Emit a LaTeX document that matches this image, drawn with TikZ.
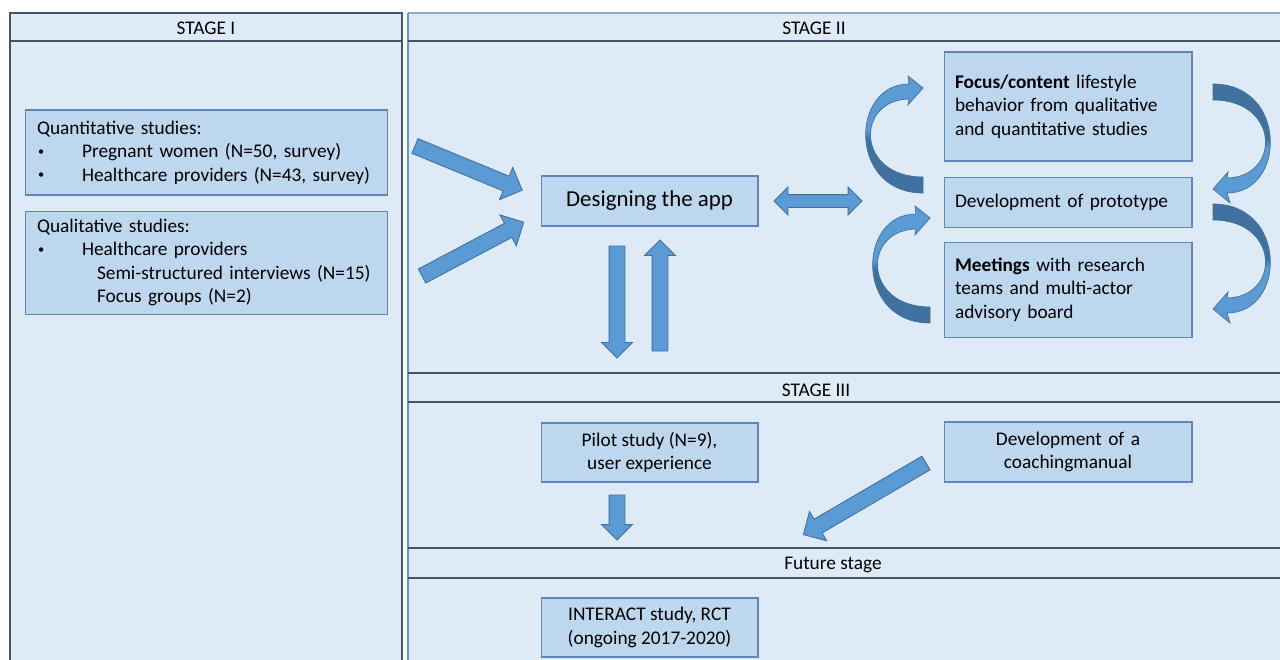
\documentclass[tikz,border=0pt]{standalone}
\usepackage{fontspec}
\setmainfont{Carlito}
\usepackage{xcolor}
\usepackage{tikz}
\usetikzlibrary{shapes.arrows, positioning}
\definecolor{panelbg}{HTML}{DEEBF7}
\definecolor{panelline}{HTML}{44546A}
\definecolor{paneltop}{HTML}{8FAACB}
\definecolor{boxfill}{HTML}{BDD7EE}
\definecolor{boxline}{HTML}{5F86B6}
\definecolor{arrowfill}{HTML}{5B9BD5}
\definecolor{arrowline}{HTML}{41719C}
\definecolor{arrowdark}{HTML}{41729F}
\pgfdeclareverticalshading{ribbonL}{100bp}{color(0bp)=(arrowdark); color(48bp)=(arrowdark); color(52bp)=(arrowfill); color(100bp)=(arrowfill)}
\pgfdeclareverticalshading{ribbonR}{100bp}{color(0bp)=(arrowfill); color(48bp)=(arrowfill); color(52bp)=(arrowdark); color(100bp)=(arrowdark)}
\tikzstyle{panel} = [draw=panelline, fill=panelbg, line width=0.7pt]
\tikzstyle{divider} = [draw=panelline, line width=0.8pt]
\tikzstyle{header} = [font=\fontsize{11}{13}\selectfont, inner sep=0pt]
\tikzstyle{listbox} = [rectangle, draw=boxline, fill=boxfill, line width=0.6pt, minimum width=7.26cm, text width=6.78cm, inner xsep=0.24cm, align=left, font=\fontsize{11}{13.4}\selectfont]
\tikzstyle{process} = [rectangle, draw=boxline, fill=boxfill, line width=0.6pt, minimum width=4.34cm, minimum height=1cm, align=center, font=\fontsize{11}{13.4}\selectfont]
\tikzstyle{stepbox} = [process, minimum width=4.96cm, text width=4.52cm, inner xsep=0.22cm, align=left]
\tikzstyle{blockarrow} = [single arrow, draw=arrowline, fill=arrowfill, line width=0.5pt, inner xsep=0pt, inner ysep=0.15cm, outer sep=0pt, minimum width=0pt, single arrow head extend=0.19cm, anchor=tail]
\tikzstyle{twoarrow} = [double arrow, draw=arrowline, fill=arrowfill, line width=0.5pt, inner xsep=0pt, inner ysep=0.12cm, outer sep=0pt, minimum width=0pt, double arrow head extend=0.15cm]
\tikzstyle{curved} = [draw=arrowline, line width=0.4pt]
\newcommand{\listdot}{\hspace*{0.02cm}\makebox[0.88cm][l]{\raisebox{1.3pt}{\fontsize{7}{7}\selectfont\textbullet}}}

\begin{document}
\begin{tikzpicture}[x=0.02cm, y=-0.02cm]
	\useasboundingbox (0,0) rectangle (1280,659);
	\clip (0,0) rectangle (1280,659);
	
	% panels
	\path[panel] (10,13) rectangle (402,700);
	\draw[divider] (10,41) -- (402,41);
	\path[fill=panelbg] (408,13) rectangle (1300,700);
	\draw[paneltop, line width=0.7pt] (408,13) -- (1300,13);
	\draw[arrowfill, line width=1pt] (408,13) -- (408,700);
	\draw[divider] (408,41) -- (1300,41);
	\draw[divider] (408,373) -- (1300,373);
	\draw[divider] (408,402) -- (1300,402);
	\draw[divider] (408,548) -- (1300,548);
	\draw[divider] (408,578) -- (1300,578);
	
	\node (stage1) [header] at (206,28) {STAGE I};
	\node (stage2) [header] at (814,28) {STAGE II};
	\node (stage3) [header] at (816,390) {STAGE III};
	\node (future) [header] at (833,565) {Future stage};
	
	% stage I
	\node (quant) [listbox, minimum height=1.7cm] at (206.5,152.5) {Quantitative studies:\\
		\listdot Pregnant women (N=50, survey)\\
		\listdot Healthcare providers (N=43, survey)};
	\node (qual) [listbox, minimum height=2.06cm, below=0.3cm of quant] {Qualitative studies:\\
		\listdot Healthcare providers\\
		\hspace*{1.2cm}Semi-structured interviews (N=15)\\
		\hspace*{1.2cm}Focus groups (N=2)};
	
	% stage II
	\node (design) [process, font=\fontsize{13}{15}\selectfont] at (649.5,201) {Designing the app};
	\node (focus) [stepbox, minimum height=2.18cm] at (1068,106.5) {\textbf{Focus/content} lifestyle\\behavior from qualitative\\and quantitative studies};
	\node (proto) [stepbox, below=0.3cm of focus] {Development of prototype};
	\node (meet) [stepbox, minimum height=1.9cm, below=0.28cm of proto] {\textbf{Meetings} with research\\teams and multi-actor\\advisory board};
	
	% stage III and future stage
	\node (pilot) [process, minimum height=1.18cm] at (649.5,452.5) {Pilot study (N=9),\\user experience};
	\node (coach) [stepbox, minimum height=1.2cm, align=center] at (1068,452) {Development of a\\coachingmanual};
	\node (interact) [process, minimum height=1.18cm] at (649.5,627.5) {INTERACT study, RCT\\(ongoing 2017-2020)};
	
	% block arrows
	\node (in1) [blockarrow, minimum height=2.32cm, rotate=-22.4] at (415,146) {};
	\node (in2) [blockarrow, minimum height=2.3cm, rotate=27.9] at (422,276) {};
	\node (link) [twoarrow, minimum height=1.76cm] at (818,201) {};
	\node (down1) [blockarrow, minimum height=2.24cm, single arrow head extend=0.15cm, rotate=-90] at (617,246) {};
	\node (up1) [blockarrow, minimum height=2.22cm, single arrow head extend=0.15cm, rotate=90] at (660,351) {};
	\node (down2) [blockarrow, minimum height=0.9cm, single arrow head extend=0.15cm, rotate=-90] at (617,495) {};
	\node (diag) [blockarrow, minimum height=2.84cm, single arrow head extend=0.18cm, rotate=-149.7] at (926,463) {};
	
	% curved arrows round the cycle
	\shade[curved, shading=ribbonL] (923,177) .. controls (856,177) and (855,100) .. (909,99) -- (908,105) -- (923,88) -- (908,76) -- (909,84) .. controls (850,84) and (848,193) .. (923,193) -- cycle;
	\begin{scope}[shift={(7,130)}]
		\shade[curved, shading=ribbonL] (923,177) .. controls (856,177) and (855,100) .. (909,99) -- (908,105) -- (923,88) -- (908,76) -- (909,84) .. controls (850,84) and (848,193) .. (923,193) -- cycle;
	\end{scope}
	\shade[curved, shading=ribbonR] (1213,100) .. controls (1280,100) and (1281,177) .. (1227,178) -- (1228,172) -- (1213,189) -- (1230,203) -- (1227,193) .. controls (1286,193) and (1288,84) .. (1213,84) -- cycle;
	\begin{scope}[shift={(0,120)}]
		\shade[curved, shading=ribbonR] (1213,100) .. controls (1280,100) and (1281,177) .. (1227,178) -- (1228,172) -- (1213,189) -- (1230,203) -- (1227,193) .. controls (1286,193) and (1288,84) .. (1213,84) -- cycle;
	\end{scope}
	
\end{tikzpicture}
\end{document}
